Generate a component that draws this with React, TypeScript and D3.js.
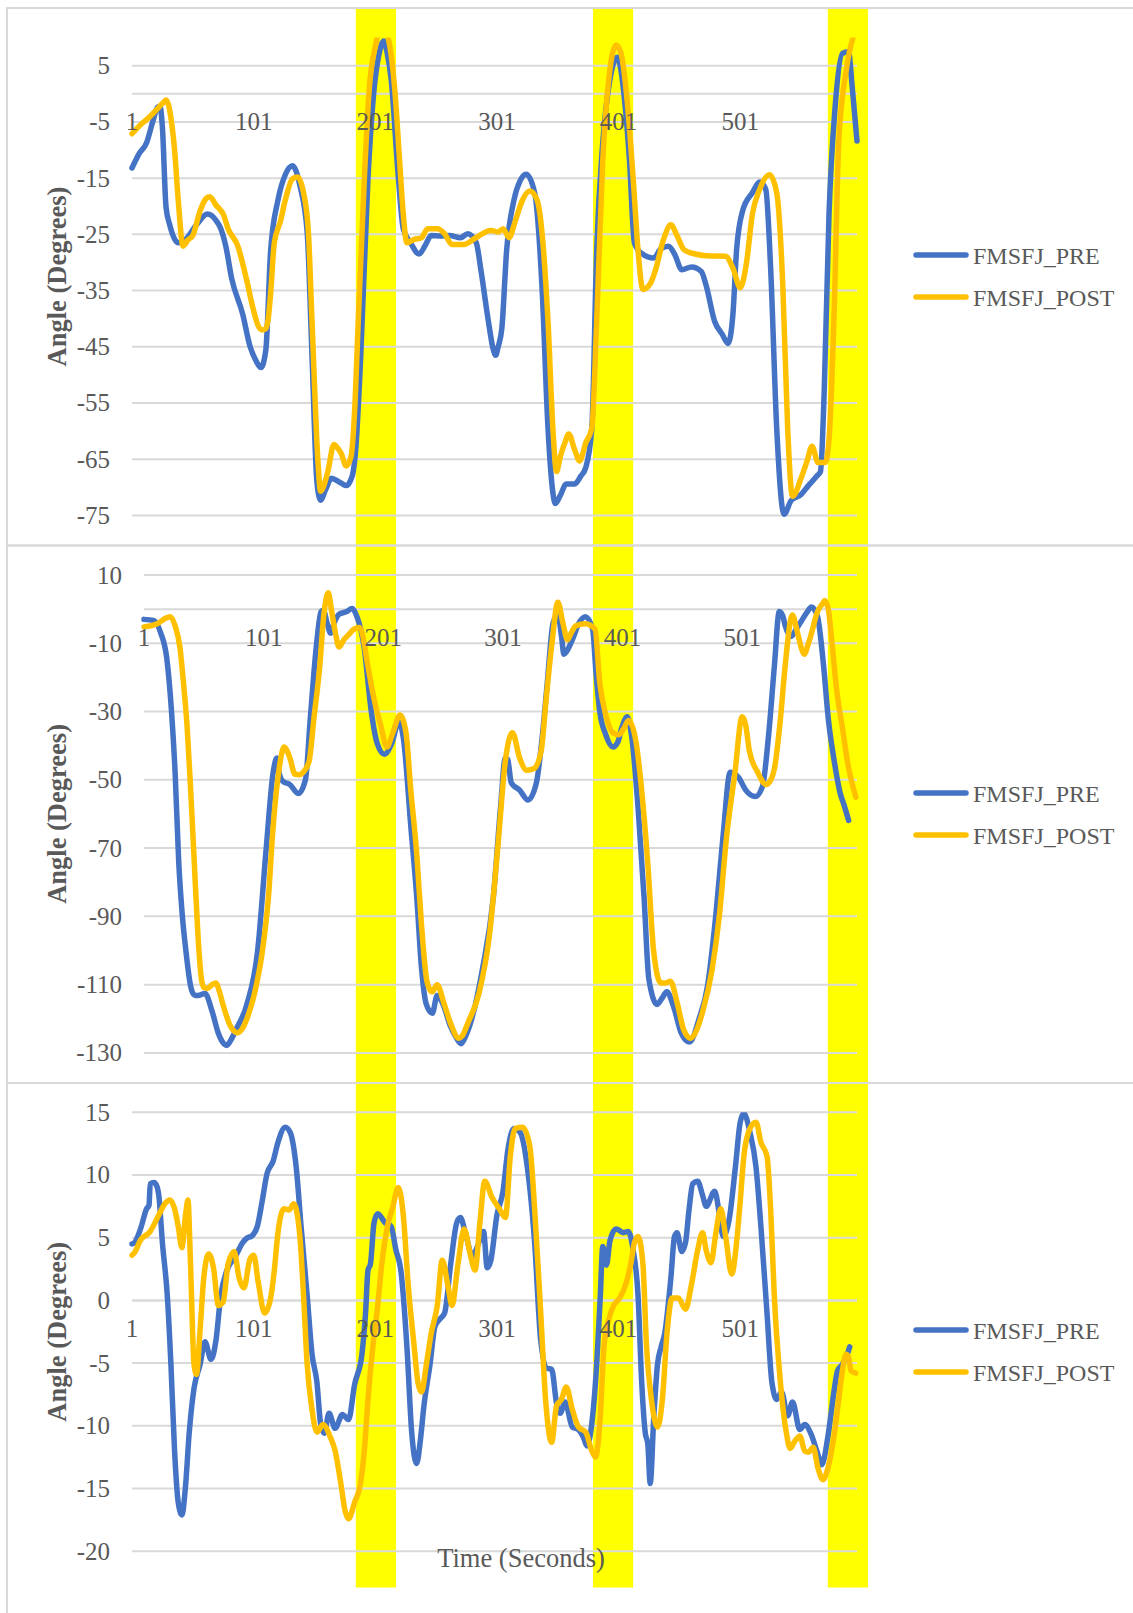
import React from 'react';
import * as d3 from 'd3';

type Pt = [number, number];

// Series names, colours and category axis
const seriesNames = ['FMSFJ_PRE', 'FMSFJ_POST'];
const seriesColors = ['#4472C4', '#FFC000'];
const categoryLabels = [1, 101, 201, 301, 401, 501];
const categoryCount = 597;
// highlighted time windows (category index range)
const highlightRanges: Pt[] = [[185, 218], [380, 413], [573, 606]];

// top panel
const topTicks = [5, -5, -15, -25, -35, -45, -55, -65, -75];
const topPre: Pt[] = [
  [1, -13.2], [7, -10.6], [13, -8.7], [18, -5], [22, -2.4], [24, -2.2], [26, -6], [29, -20.2], [32, -23.3],
  [39, -26.5], [45, -25.9], [54, -23.3], [63, -21.4], [70, -22.5], [74, -24], [78, -27], [83, -32.9],
  [92, -39.2], [98, -44.9], [103, -47.5], [107, -48.7], [111, -45.6], [115, -27.8], [121, -18.9],
  [127, -14.4], [133, -12.8], [139, -16.3], [145, -24.6], [149, -46.8], [153, -69], [156, -72.3],
  [160, -70.5], [165, -68.4], [171, -69], [177, -69.7], [182, -68], [185, -63], [189, -46.8], [195, -15],
  [200, 0.8], [204, 7], [208, 9.4], [211, 7], [214, 2.7], [220, -15], [224, -24], [230, -26.5],
  [237, -28.5], [242, -27], [247, -25.2], [255, -25.3], [262, -25.2], [271, -25.6], [277, -24.9],
  [284, -26.5], [288, -31.6], [294, -40.5], [298, -45.5], [300, -46.5], [302, -45], [305, -41.8],
  [309, -27.8], [315, -18.9], [320, -15.5], [325, -14.3], [332, -17.6], [338, -34.1], [343, -59.5],
  [347, -71], [349, -72.9], [353, -71.5], [358, -69.4], [365, -69.4], [370, -68], [374, -66.5],
  [379, -59.5], [383, -27.8], [388, -8.7], [394, 2.7], [400, 6.5], [405, 0.8], [410, -11.9], [414, -26.5],
  [420, -28.4], [430, -29.2], [436, -27.5], [442, -27.1], [447, -28.5], [453, -31.3], [461, -30.8],
  [469, -31.6], [473, -34.1], [480, -40.5], [486, -42.7], [491, -44.4], [495, -39.2], [498, -27.8],
  [503, -20.8], [511, -17.6], [517, -15.7], [522, -17], [526, -31], [531, -59.5], [537, -74.8],
  [543, -72.3], [551, -71.3], [557, -69.7], [564, -68], [567, -67.2], [570, -53.2], [574, -21.4],
  [579, -2.4], [585, 7.2], [590, 7.5], [593, 1.4], [597, -8.4],
];
const topPost: Pt[] = [
  [1, -7.1], [8, -5.5], [16, -4], [23, -2.4], [27, -1.5], [29, -1.1], [31, -2], [33, -4.3], [36, -10],
  [39, -18.9], [43, -27.1], [47, -26], [51, -25.2], [57, -20.8], [62, -18.6], [65, -18.3], [70, -19.8],
  [73, -20.5], [76, -21.4], [80, -24], [88, -27.1], [95, -32.9], [101, -38.6], [105, -41.4], [108, -42],
  [111, -41.8], [113, -40], [115, -35.4], [118, -26.5], [123, -22.7], [127, -18.9], [133, -15.1],
  [137, -14.8], [142, -17.6], [146, -24.6], [149, -40.5], [154, -65.9], [156, -70.7], [159, -69.5],
  [162, -67.2], [167, -62.4], [170, -63], [173, -64], [177, -66.2], [181, -64.6], [184, -56.4],
  [187, -40.5], [192, -15.1], [196, 0.8], [201, 8.4], [204, 10.6], [210, 10.6], [213, 8.4], [217, 0.8],
  [221, -11.9], [224, -21.4], [227, -26.5], [233, -25.9], [239, -25.6], [244, -24], [252, -24],
  [258, -24.9], [264, -26.8], [274, -26.8], [283, -25.7], [296, -24.3], [302, -24.6], [306, -24],
  [311, -25.6], [316, -22.7], [322, -18.9], [328, -17.3], [334, -18.9], [338, -24.6], [343, -40.5],
  [347, -59.5], [350, -67.2], [353, -64.6], [357, -62], [360, -60.5], [365, -63.4], [369, -65.3],
  [374, -62.1], [379, -59.5], [383, -40.5], [388, -11.9], [393, 2.7], [399, 8.7], [403, 7.2], [408, -1.1],
  [413, -15.1], [417, -27.8], [421, -34.8], [427, -33.8], [431, -31.6], [438, -25.9], [444, -23.3],
  [449, -25.2], [455, -27.8], [464, -28.5], [473, -28.8], [489, -28.9], [495, -31], [501, -34.5],
  [506, -30.3], [511, -21.4], [517, -17], [525, -14.4], [531, -17.6], [536, -34.1], [540, -59.5],
  [544, -71.6], [551, -68.4], [556, -65.3], [560, -62.7], [565, -65.6], [571, -65.6], [574, -61.5],
  [578, -40.5], [582, -8.7], [588, 4], [593, 9.4], [595, 10.6], [597, 10.6],
];

// middle panel
const midTicks = [10, -10, -30, -50, -70, -90, -110, -130];
const midPre: Pt[] = [
  [1, -3], [9, -3.3], [15, -7], [20, -14.3], [24, -30], [27, -47.8], [30, -73.9], [33, -89.6], [36, -100],
  [40, -110.5], [43, -113], [46, -113.2], [52, -112.6], [58, -117.9], [63, -124.1], [67, -127], [70, -127.8],
  [74, -126], [78, -123.1], [87, -115.8], [96, -100.1], [103, -70.8], [109, -47.8], [112, -43.6],
  [114, -48], [117, -50.4], [123, -51.4], [130, -54], [136, -49.9], [140, -32.1], [145, -11.1],
  [149, -0.7], [151, -0.3], [154, -4], [157, -7], [160, -4], [164, -1.5], [170, -0.8], [175, 0.2],
  [179, -2.2], [185, -11.1], [191, -30], [196, -39.4], [202, -42.5], [208, -39.4], [214, -33.1],
  [218, -38.3], [224, -63.5], [229, -84.4], [233, -105.3], [237, -115.8], [242, -118.4], [246, -113.2],
  [251, -115.8], [257, -122], [262, -125.5], [266, -127.3], [270, -125], [275, -120], [284, -105.3],
  [293, -84.4], [299, -58.2], [303, -43.6], [305, -44], [308, -50.9], [315, -53], [322, -55.9],
  [329, -50.9], [334, -37], [338, -22], [343, -4], [347, -1.7], [350, -8], [352, -13.2], [355, -12],
  [359, -9], [365, -3.8], [370, -2.2], [376, -5.9], [379, -19.5], [382, -30], [387, -36.8], [393, -40.4],
  [397, -39], [400, -35.2], [405, -31.5], [409, -38.3], [414, -58.2], [419, -84.4], [423, -108.4],
  [430, -115.8], [434, -114], [438, -112.1], [444, -116.8], [450, -124.1], [457, -126.8], [465, -120],
  [472, -110.5], [479, -89.6], [485, -66.6], [491, -47.8], [498, -49.3], [504, -53], [512, -54.9],
  [518, -51.9], [523, -37.3], [528, -16.4], [532, -0.7], [535, -2], [537, -4.9], [542, -8], [546, -6],
  [550, -3.8], [555, -1], [559, 0.6], [564, -2.2], [569, -16.4], [573, -32.1], [578, -44.6], [583, -54],
  [586, -57.2], [590, -61.9],
];
const midPost: Pt[] = [
  [1, -5.2], [12, -4.3], [20, -2.5], [23, -2.2], [27, -4.9], [31, -11.1], [34, -21.6], [37, -34.2],
  [40, -53], [43, -73.9], [46, -94.8], [49, -108.4], [51, -110.8], [54, -111.1], [58, -110], [61, -109.5],
  [64, -112], [67, -115.8], [73, -122], [79, -124.1], [83, -123], [87, -120], [94, -111.6], [100, -100.1],
  [105, -84.4], [109, -63.5], [114, -46.7], [118, -40.4], [123, -43.6], [127, -48.3], [131, -48.5],
  [134, -47.8], [139, -44.6], [143, -32.1], [148, -16.4], [151, -2.8], [155, 4.8], [158, -1], [161, -7],
  [164, -11.1], [168, -9], [172, -7.5], [176, -6], [181, -5.4], [183, -6.5], [188, -16.4], [193, -25.8],
  [199, -34.2], [204, -40.4], [209, -36.2], [215, -31], [220, -36.2], [224, -53], [229, -71.8],
  [233, -92.7], [237, -108], [240, -111.5], [242, -112.1], [246, -110], [252, -115.8], [258, -122],
  [264, -125.7], [267, -125], [272, -121], [281, -112.6], [290, -94.8], [297, -68.7], [303, -44.6],
  [309, -36.2], [315, -43.6], [321, -47.2], [327, -46.7], [333, -41.5], [337, -27], [342, -10], [347, 2],
  [351, -3.8], [355, -9], [358, -7], [362, -4.9], [370, -4.3], [378, -5.9], [382, -21.6], [387, -31],
  [393, -36.2], [398, -36.8], [402, -35], [406, -32.6], [412, -38.3], [417, -53], [422, -73.9],
  [427, -100.1], [433, -109.5], [437, -109.5], [441, -109], [447, -115.8], [452, -123.1], [458, -125.7],
  [462, -124], [468, -117.9], [476, -105.3], [482, -89.6], [488, -66.6], [495, -47.8], [501, -31.5],
  [504, -34], [507, -41.5], [514, -47.8], [521, -51.4], [525, -50], [528, -46.7], [533, -32.1],
  [537, -16.4], [543, -1.7], [546, -5], [548, -8], [553, -13.2], [556, -10.5], [559, -7], [564, -0.7],
  [568, 1.5], [570, 2.5], [573, 0], [575, -5.9], [580, -23.7], [585, -35.2], [589, -44.6], [596, -55.1],
];

// bottom panel
const lowTicks = [15, 10, 5, 0, -5, -10, -15, -20];
const lowPre: Pt[] = [
  [1, 4.5], [3, 4.6], [8, 5.7], [13, 7.3], [15, 7.6], [16, 9.3], [19, 9.4], [21, 9.2], [23, 8.4], [26, 4.6],
  [30, 0.4], [33, -5.1], [36, -12], [39, -16.1], [42, -17.1], [45, -14.8], [48, -10.6], [52, -7],
  [57, -5.1], [61, -3.3], [66, -4.7], [70, -3.2], [74, 0.4], [79, 2.4], [86, 3.5], [92, 4.6], [96, 5],
  [99, 5.1], [104, 5.9], [108, 7.9], [112, 10.1], [117, 11.1], [121, 12.6], [127, 13.8], [131, 13.4],
  [136, 10.6], [140, 5.9], [145, 0.4], [149, -4.3], [153, -6.5], [156, -9.8], [159, -10.6], [163, -9],
  [168, -10.2], [174, -9.1], [179, -9.5], [184, -6.7], [190, -4.3], [193, -1], [195, 2.4], [197, 2.9],
  [200, 6.2], [203, 6.9], [209, 6.2], [214, 5.9], [218, 4], [222, 2.4], [227, -3.7], [231, -10.6],
  [235, -13], [238, -11.2], [241, -8.4], [246, -5.1], [250, -2.1], [254, -1.5], [258, -1], [263, 2.9],
  [268, 6.2], [271, 6.6], [275, 5.4], [281, 3.5], [285, 4.3], [290, 5.5], [293, 2.6], [296, 3.2],
  [301, 6.8], [306, 8.7], [310, 12], [315, 13.7], [320, 13.4], [326, 10.6], [332, 4.6], [337, -3.2],
  [342, -5.4], [346, -5.5], [350, -8.2], [353, -9], [357, -8.1], [363, -10.1], [368, -10.3], [372, -10.9],
  [375, -11.6], [379, -9.8], [383, -5.1], [386, 0.4], [388, 4.3], [390, 3.2], [391, 2.8], [394, 4.8],
  [399, 5.7], [405, 5.4], [409, 5.5], [413, 4], [417, 0.4], [420, -6.5], [423, -10.6], [425, -11.4],
  [427, -14.6], [430, -9.2], [433, -5.1], [436, -3.7], [439, -2.6], [444, 1.8], [447, 5.1], [449, 5.4],
  [453, 3.9], [456, 4.6], [459, 7.3], [462, 9.3], [466, 9.5], [470, 8.4], [473, 7.5], [480, 8.7],
  [484, 6.8], [487, 5.1], [492, 6.5], [497, 10.6], [501, 14.2], [504, 14.9], [509, 13.4], [514, 10.6],
  [518, 5.9], [523, -1], [527, -6.5], [531, -7.9], [535, -7.3], [540, -9.2], [544, -8.1], [550, -10.3],
  [554, -9.9], [559, -10.6], [564, -12], [568, -13.1], [573, -10.9], [578, -7.3], [581, -5.6],
  [585, -5.1], [589, -4.3], [591, -3.7],
];
const lowPost: Pt[] = [
  [1, 3.6], [3, 3.8], [8, 4.8], [16, 5.5], [23, 6.8], [28, 7.7], [32, 8], [34, 7.8], [36, 7.3], [39, 5.9],
  [42, 4.2], [45, 6.8], [47, 8], [49, 3.2], [52, -5.1], [54, -5.9], [57, -2.3], [60, 1.8], [64, 3.7],
  [68, 2.6], [72, -0.4], [76, -0.1], [80, 2.9], [85, 3.9], [89, 1.8], [93, 1], [98, 3.3], [101, 3.6],
  [105, 1.3], [110, -1], [115, 0.2], [118, 2.4], [121, 5.4], [126, 7.3], [130, 7.2], [134, 7.7],
  [139, 5.1], [142, 0.4], [145, -5.1], [149, -8.7], [153, -10.5], [158, -9.9], [164, -10.9], [168, -12],
  [173, -14.8], [176, -16.7], [179, -17.4], [184, -16.1], [189, -14.5], [192, -12], [195, -7.9],
  [199, -3.7], [203, -0.4], [206, 2.6], [211, 5.9], [215, 7.3], [220, 9], [224, 6.8], [228, 1.3],
  [233, -3.7], [236, -6.5], [239, -7.3], [243, -5.1], [247, -2.6], [252, -0.4], [256, 3.2], [261, 1],
  [264, -0.4], [269, 2.9], [274, 5.7], [279, 3.7], [283, 2.4], [287, 6.2], [291, 9.5], [297, 8.2],
  [303, 7.3], [308, 6.6], [312, 11.5], [316, 13.7], [322, 13.8], [328, 12.3], [332, 7.3], [337, -1],
  [341, -7.9], [346, -11.3], [350, -8.4], [354, -7.9], [358, -6.9], [363, -8.7], [368, -10.1],
  [374, -10.5], [379, -12], [382, -12.5], [386, -9.2], [389, -3.7], [393, -1.5], [397, -0.4], [402, 0.2],
  [407, 1.3], [411, 2.9], [414, 4.6], [417, 5.1], [421, 2.9], [424, -3.7], [428, -7.9], [433, -10.1],
  [437, -7.9], [441, -2.4], [445, 0.2], [450, 0.2], [456, -0.7], [461, 1.3], [466, 4], [470, 5.4],
  [473, 4], [477, 3], [481, 5.4], [485, 7.3], [489, 5.1], [494, 2.1], [498, 4.6], [501, 7.9], [504, 11.5],
  [509, 13.7], [514, 14.2], [518, 12.6], [523, 11.5], [526, 7.3], [529, 0.4], [534, -6.5], [539, -10.6],
  [542, -11.8], [546, -11.2], [550, -10.8], [554, -12], [557, -12.1], [561, -11.7], [565, -13.4],
  [569, -14.3], [573, -13.4], [578, -10.9], [582, -7.9], [585, -5.6], [588, -4.3], [590, -4.5],
  [592, -5.6], [596, -5.8],
];

const FONT = '"Liberation Serif", "Times New Roman", Times, serif';
const TEXT = '#595959';
const GRID = '#D9D9D9';
const W = 1133;
const H = 1613;
const PLOT_RIGHT = 857;

const layout = [
  { boxTop: 8, boxBottom: 545.5, left: 132, top: 37.6, bottom: 515.4, legendY: 255 },
  { boxTop: 545.5, boxBottom: 1083, left: 144, top: 575, bottom: 1052.9, legendY: 793 },
  { boxTop: 1083, boxBottom: 1650, left: 132, top: 1112.2, bottom: 1551.3, legendY: 1330 },
];

const panels = [
  { pre: topPre, post: topPost, domain: [-75, 10], ticks: topTicks },
  { pre: midPre, post: midPost, domain: [-130, 10], ticks: midTicks },
  { pre: lowPre, post: lowPost, domain: [-20, 15], ticks: lowTicks },
];

function Panel({ i }: { i: number }) {
  const L = layout[i];
  const p = panels[i];
  const x = d3.scaleLinear().domain([1, categoryCount]).range([L.left, PLOT_RIGHT]);
  const y = d3.scaleLinear().domain(p.domain).range([L.bottom, L.top]);
  const line = d3.line<Pt>().x(d => x(d[0])).y(d => y(d[1])).curve(d3.curveMonotoneX);
  const y0 = y(0);
  const midY = (L.top + L.bottom) / 2;

  return (
    <g>
      <rect x={7} y={L.boxTop} width={1200} height={L.boxBottom - L.boxTop} fill="none" stroke={GRID} strokeWidth={2} />
      {p.ticks.map(t => (
        <line key={t} x1={L.left} x2={PLOT_RIGHT} y1={y(t)} y2={y(t)} stroke={GRID} strokeWidth={2} />
      ))}
      <line x1={L.left} x2={PLOT_RIGHT} y1={y0} y2={y0} stroke={GRID} strokeWidth={2} />
      <clipPath id={`clip-${i}`}>
        <rect x={L.left - 10} y={L.top} width={PLOT_RIGHT - L.left + 20} height={L.bottom - L.top + 4} />
      </clipPath>
      <g clipPath={`url(#clip-${i})`} fill="none" strokeWidth={5.5} strokeLinejoin="round" strokeLinecap="round">
        <path d={line(p.pre) || ''} stroke={seriesColors[0]} />
        <path d={line(p.post) || ''} stroke={seriesColors[1]} />
      </g>
      <g fontFamily={FONT} fontSize={25} fill={TEXT}>
        {p.ticks.map(t => (
          <text key={t} x={L.left - 22} y={y(t) + 8.5} textAnchor="end">{t}</text>
        ))}
        {categoryLabels.map(c => (
          <text key={c} x={x(c)} y={y0 + 36.5} textAnchor="middle">{c}</text>
        ))}
      </g>
      <text
        transform={`translate(57,${midY}) rotate(-90)`}
        textAnchor="middle"
        dominantBaseline="central"
        fontFamily={FONT}
        fontSize={26.5}
        fontWeight="bold"
        fill={TEXT}
      >
        Angle (Degrees)
      </text>
      {seriesNames.map((name, k) => (
        <g key={name}>
          <line x1={916} x2={966} y1={L.legendY + k * 42} y2={L.legendY + k * 42} stroke={seriesColors[k]} strokeWidth={5.5} strokeLinecap="round" />
          <text x={973} y={L.legendY + k * 42 + 8.5} fontFamily={FONT} fontSize={24} fill={TEXT}>{name}</text>
        </g>
      ))}
    </g>
  );
}

export default function App() {
  const xTop = d3.scaleLinear().domain([1, categoryCount]).range([layout[0].left, PLOT_RIGHT]);
  return (
    <svg width={W} height={H} style={{ position: 'absolute', left: 0, top: 0, background: '#fff' }}>
      <rect x={0} y={0} width={W} height={H} fill="#fff" />
      {highlightRanges.map(([a, b]) => (
        <rect key={a} x={xTop(a)} y={9} width={xTop(b) - xTop(a)} height={1587.5 - 9} fill="#FFFF00" />
      ))}
      {[0, 1, 2].map(i => <Panel key={i} i={i} />)}
      <text x={521} y={1566.5} textAnchor="middle" fontFamily={FONT} fontSize={26.5} fill={TEXT}>
        Time (Seconds)
      </text>
    </svg>
  );
}
